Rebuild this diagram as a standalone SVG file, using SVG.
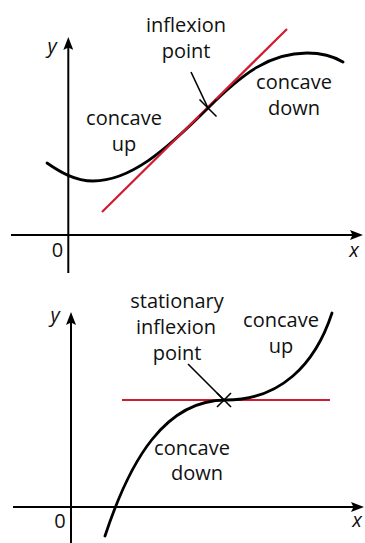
<svg xmlns="http://www.w3.org/2000/svg" width="365" height="543" viewBox="0 0 365 543">
<style>
.ax{stroke:#000;stroke-width:2;fill:none}
.curve{stroke:#000;stroke-width:2.8;fill:none;stroke-linecap:round}
.tan{stroke:#d11b33;stroke-width:2.2;fill:none}
.lead{stroke:#000;stroke-width:1.6;fill:none}
.t{font-family:"Open Sans","Noto Sans","Liberation Sans",sans-serif;font-size:20px;fill:#111;text-anchor:middle}
.v{font-family:"Open Sans","Noto Sans","Liberation Sans",sans-serif;font-size:20px;font-style:italic;fill:#111;text-anchor:middle}
</style>
<defs>
<marker id="arr" viewBox="0 0 13 10" refX="6" refY="5" markerWidth="13" markerHeight="10" markerUnits="userSpaceOnUse" orient="auto">
<path d="M0,0 L13,5 L0,10 L2.5,5 Z" fill="#000"/>
</marker>
</defs>
<g id="graph-top">
<g id="axes-top">
<line class="ax" x1="11" y1="235" x2="356" y2="235" marker-end="url(#arr)"/>
<line class="ax" x1="68.3" y1="273" x2="68.3" y2="44" marker-end="url(#arr)"/>
<text class="v" x="52" y="53">y</text>
<text class="t" x="57.5" y="257">0</text>
<text class="v" x="354" y="257">x</text>
</g>
<path id="curve-top" class="curve" d="M47,163 C60,172 75,181 93,181 C130,181 165,151 208,108 C243,73 270,53 307,53 C322,53 333,56 343,62"/>
<line id="tangent-top" class="tan" x1="102" y1="212" x2="287" y2="29"/>
<g id="point-top">
<line class="lead" x1="191" y1="72" x2="208" y2="108"/>
<line class="lead" x1="199.5" y1="99.5" x2="216.5" y2="116.5"/>
<line class="lead" x1="199.5" y1="116.5" x2="216.5" y2="99.5"/>
</g>
<g id="labels-top">
<text class="t" x="186" y="32">inflexion</text>
<text class="t" x="186" y="58">point</text>
<text class="t" x="124" y="125">concave</text>
<text class="t" x="124" y="151">up</text>
<text class="t" x="294" y="89">concave</text>
<text class="t" x="294" y="115">down</text>
</g>
</g>
<g id="graph-bottom">
<g id="axes-bottom">
<line class="ax" x1="13" y1="507" x2="357" y2="507" marker-end="url(#arr)"/>
<line class="ax" x1="71" y1="543" x2="71" y2="319" marker-end="url(#arr)"/>
<text class="v" x="55" y="322">y</text>
<text class="t" x="60" y="528">0</text>
<text class="v" x="357" y="527">x</text>
</g>
<line id="tangent-bottom" class="tan" x1="122" y1="400" x2="330" y2="400"/>
<path id="curve-bottom" class="curve" d="M105,536 C130,460 165,400 226,400 C280,400 315,365 332,313"/>
<g id="point-bottom">
<line class="lead" x1="188" y1="364" x2="224" y2="400"/>
<line class="lead" x1="217" y1="393" x2="231" y2="407"/>
<line class="lead" x1="217" y1="407" x2="231" y2="393"/>
</g>
<g id="labels-bottom">
<text class="t" x="177" y="308">stationary</text>
<text class="t" x="176" y="334">inflexion</text>
<text class="t" x="177" y="360">point</text>
<text class="t" x="281" y="327">concave</text>
<text class="t" x="281" y="353">up</text>
<text class="t" x="192" y="455">concave</text>
<text class="t" x="197" y="480">down</text>
</g>
</g>
</svg>
